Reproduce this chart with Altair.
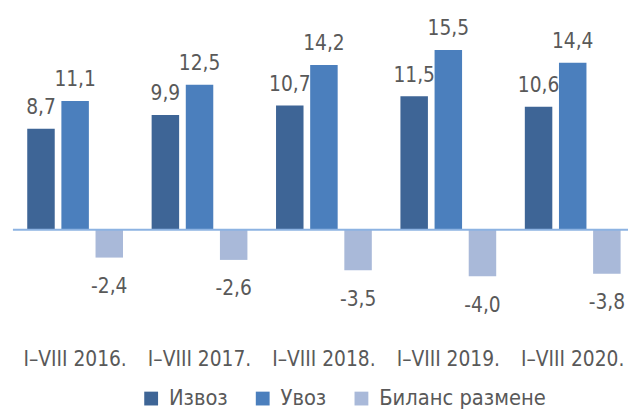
import altair as alt
import pandas as pd

categories = ["I–VIII 2016.", "I–VIII 2017.", "I–VIII 2018.", "I–VIII 2019.", "I–VIII 2020."]
series = ["Извоз", "Увоз", "Биланс размене"]
izvoz = [8.7, 9.9, 10.7, 11.5, 10.6]
uvoz = [11.1, 12.5, 14.2, 15.5, 14.4]
bilans = [-2.4, -2.6, -3.5, -4.0, -3.8]
colors = ["#3e6596", "#4b7fbd", "#a9b9d9"]

FONT = "DejaVu Sans Condensed, sans-serif"
TXT = "#595959"
FS = 21

rows = []
for s, vals in zip(series, [izvoz, uvoz, bilans]):
    for c, v in zip(categories, vals):
        rows.append({"cat": c, "series": s, "value": v,
                     "label": f"{v:.1f}".replace(".", ",")})
df = pd.DataFrame(rows)

W = 623
H = 305.5

x_enc = alt.X("cat:N", sort=categories,
              scale=alt.Scale(range=[0, 630], paddingInner=0.23, paddingOuter=0.115),
              axis=alt.Axis(title=None, domain=False, ticks=False, grid=False,
                            labelAngle=0, labelPadding=3, labelFontSize=FS,
                            labelFont=FONT, labelColor=TXT, labelLimit=300))
xo_enc = alt.XOffset("series:N", sort=series,
                     scale=alt.Scale(domain=series, paddingInner=0.195, paddingOuter=0))
y_enc = alt.Y("value:Q", scale=alt.Scale(domain=[-10, 16], nice=False, zero=False), axis=None)

base = alt.Chart(df).encode(x=x_enc, xOffset=xo_enc, y=y_enc)

bars = base.mark_bar().encode(
    color=alt.Color("series:N", sort=series,
                    scale=alt.Scale(domain=series, range=colors),
                    legend=alt.Legend(title=None, orient="none", legendX=129, legendY=348,
                                      direction="horizontal", symbolType="square",
                                      symbolSize=196, symbolStrokeWidth=0,
                                      labelFontSize=22, labelFont=FONT, labelColor=TXT,
                                      labelOffset=7, columnPadding=24, labelLimit=300))
)

pos = base.transform_filter("datum.value >= 0").mark_text(
    baseline="alphabetic", dy=-15, fontSize=FS, font=FONT, color=TXT
).encode(text="label:N")

neg = base.transform_filter("datum.value < 0").mark_text(
    baseline="alphabetic", dy=36, fontSize=FS, font=FONT, color=TXT
).encode(text="label:N")

zero = alt.Chart(pd.DataFrame({"z": [0]})).mark_rule(color="#8db3e2", strokeWidth=1.8).encode(
    y=alt.Y("z:Q"), x=alt.value(0), x2=alt.value(W)
)

chart = alt.layer(bars, pos, neg, zero).properties(
    width=W, height=H,
    autosize=alt.AutoSizeParams(type="none"),
    padding={"left": 5, "top": 34, "right": 0, "bottom": 63.5},
).configure_view(stroke=None)

chart.save("out.html", embed_options={"renderer": "svg", "actions": False})
